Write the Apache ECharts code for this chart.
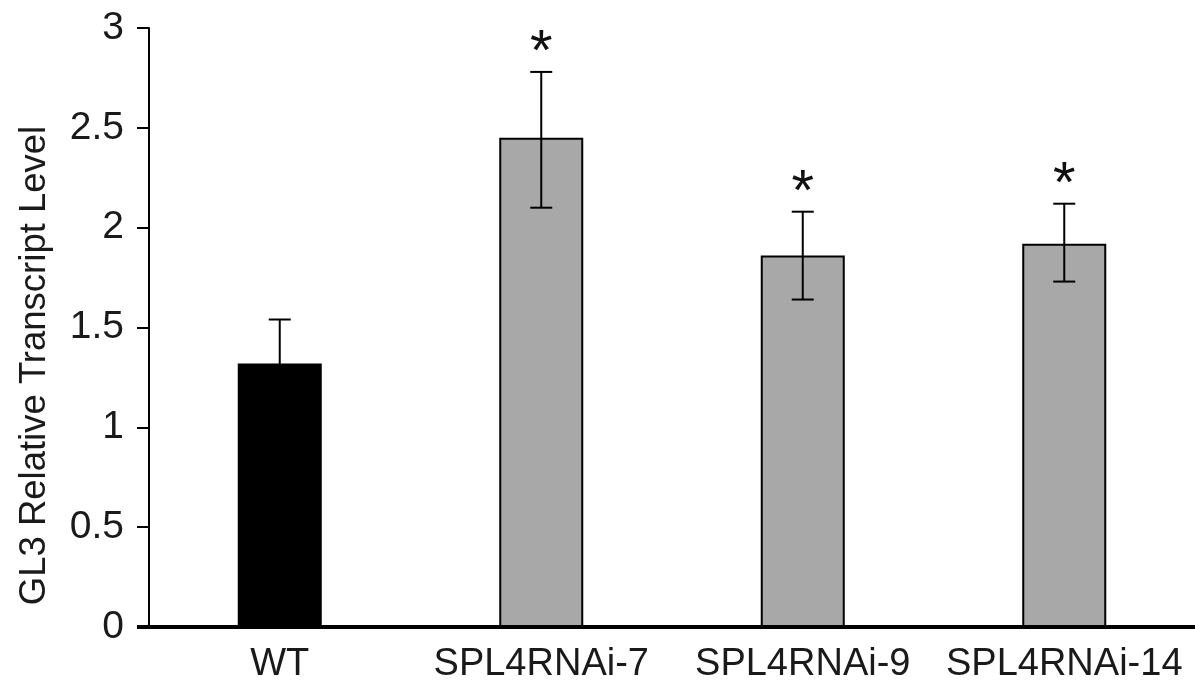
<!DOCTYPE html>
<html>
<head>
<meta charset="utf-8">
<script src="https://cdn.jsdelivr.net/npm/echarts@6/dist/echarts.min.js"></script>
<style>html,body{margin:0;padding:0;background:#fff}#c{width:1195px;height:690px}</style>
</head>
<body>
<div id="c"></div>
<script>
const categories = ['WT', 'SPL4RNAi-7', 'SPL4RNAi-9', 'SPL4RNAi-14'];
const means = [1.32, 2.45, 1.86, 1.92];
const errLow = [1.10, 2.10, 1.64, 1.73];
const errHigh = [1.54, 2.78, 2.08, 2.12];
const significance = ['', '*', '*', '*'];
const barColors = ['#000000', '#a8a8a8', '#a8a8a8', '#a8a8a8'];
const yMin = 0, yMax = 3, yInterval = 0.5;
const yTitle = 'GL3 Relative Transcript Level';

const FONT = '"Liberation Sans", Arial, sans-serif';
const chart = echarts.init(document.getElementById('c'));

const errData = categories.map((c, i) => [i, errLow[i], errHigh[i], significance[i]]);

chart.setOption({
  animation: false,
  backgroundColor: '#fff',
  grid: { left: 149, width: 1051, top: 28, height: 599, containLabel: false },
  xAxis: {
    type: 'category',
    data: categories,
    axisLine: { lineStyle: { color: '#000', width: 4 } },
    axisTick: { show: false },
    axisLabel: { color: '#1a1a1a', fontSize: 38, fontFamily: FONT, margin: 19, interval: 0 }
  },
  yAxis: {
    type: 'value',
    min: yMin, max: yMax, interval: yInterval,
    name: yTitle,
    nameLocation: 'middle',
    nameGap: 96,
    nameTextStyle: { color: '#1a1a1a', fontSize: 36.5, fontFamily: FONT, padding: [0, 76, 0, 0] },
    axisLine: { show: true, lineStyle: { color: '#000', width: 2 } },
    axisTick: { show: true, length: 12, lineStyle: { color: '#000', width: 2 } },
    splitLine: { show: false },
    axisLabel: { color: '#1a1a1a', fontSize: 39, fontFamily: FONT, margin: 25,
      formatter: v => String(v) }
  },
  series: [
    {
      type: 'bar',
      barWidth: 84,
      data: means.map((v, i) => ({
        value: v,
        itemStyle: { color: barColors[i], borderColor: '#000', borderWidth: i === 0 ? 0 : 2 }
      })),
      z: 2
    },
    {
      type: 'custom',
      z: 5,
      data: errData,
      renderItem: function (params, api) {
        const x = api.value(0);
        const lo = api.coord([x, api.value(1)]);
        const hi = api.coord([x, api.value(2)]);
        const cap = 11;
        const st = { stroke: '#000', lineWidth: 2 };
        const children = [
          { type: 'line', shape: { x1: lo[0], y1: lo[1], x2: hi[0], y2: hi[1] }, style: st },
          { type: 'line', shape: { x1: hi[0] - cap, y1: hi[1], x2: hi[0] + cap, y2: hi[1] }, style: st },
          { type: 'line', shape: { x1: lo[0] - cap, y1: lo[1], x2: lo[0] + cap, y2: lo[1] }, style: st }
        ];
        const s = significance[params.dataIndex];
        if (s) {
          children.push({ type: 'text', x: hi[0], y: hi[1] + 11,
            style: { text: s, fill: '#111', font: '58px ' + FONT, align: 'center', verticalAlign: 'bottom' } });
        }
        return { type: 'group', children: children };
      }
    }
  ]
});

// extend baseline left under the zero tick
const zeroY = chart.convertToPixel({ yAxisIndex: 0 }, 0);
chart.setOption({
  graphic: [{ type: 'rect', shape: { x: 137, y: zeroY - 2, width: 14, height: 4 }, style: { fill: '#000' } }]
});
</script>
</body>
</html>
